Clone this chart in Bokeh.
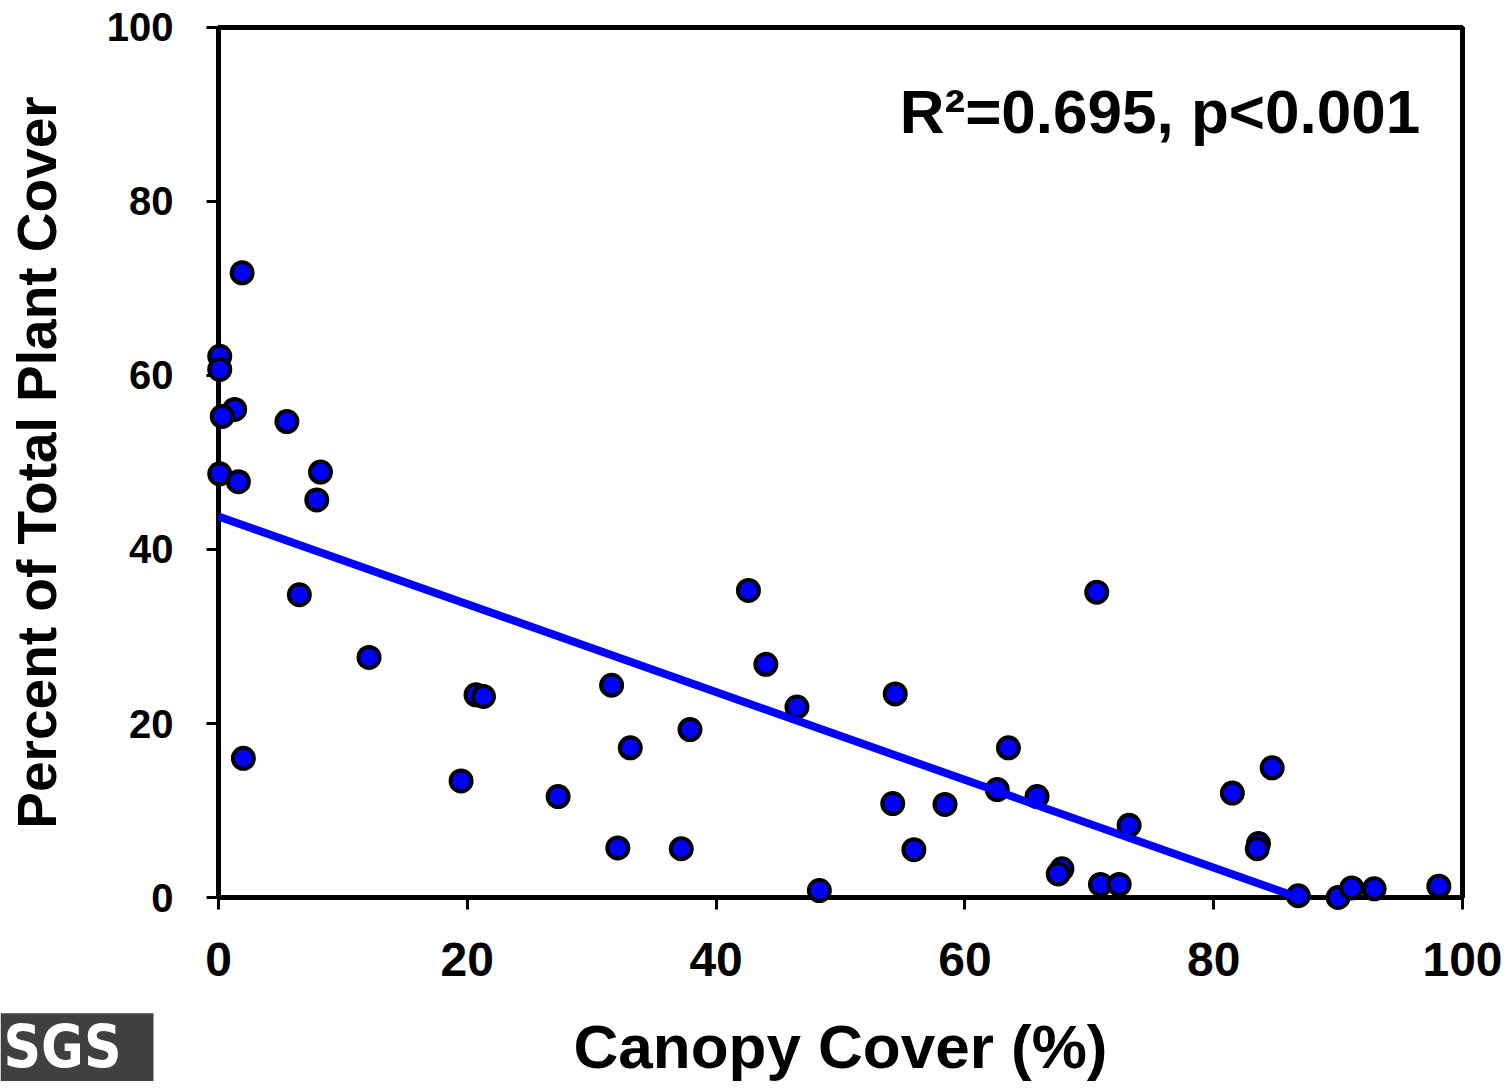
from bokeh.plotting import figure
from bokeh.models import Range1d, FixedTicker, Label, BoxAnnotation, ColumnDataSource
from bokeh.embed import file_html
from bokeh.resources import INLINE

# ---- data ----
canopy_cover = [1.9, 0.1, 0.1, 1.3, 0.3, 5.5, 0.1, 1.6, 8.2, 7.9, 6.5, 2.0, 12.1,
                19.5, 20.7, 21.3, 27.3, 31.6, 32.1, 33.1, 37.2, 37.9, 42.6, 44.0,
                46.5, 48.3, 54.2, 54.4, 55.9, 58.4, 62.6, 63.5, 65.8, 67.8, 67.5,
                70.9, 70.6, 72.4, 73.2, 81.5, 83.6, 83.5, 84.7, 86.8, 90.0, 91.1,
                92.9, 98.1]
plant_cover = [71.8, 62.2, 60.7, 56.1, 55.3, 54.7, 48.7, 47.8, 48.9, 45.7, 34.8, 16.0, 27.6,
               13.4, 23.3, 23.1, 11.6, 24.4, 5.7, 17.2, 5.6, 19.3, 35.3, 26.8,
               21.9, 0.8, 10.8, 23.4, 5.5, 10.7, 12.4, 17.2, 11.6, 3.3, 2.7,
               1.5, 35.1, 1.5, 8.3, 12.0, 6.2, 5.6, 14.9, 0.2, 0.0, 1.1,
               1.0, 1.3]
fit_x = [0.0, 86.8]
fit_y = [43.8, 0.0]
x_ticks = [0, 20, 40, 60, 80, 100]
y_ticks = [0, 20, 40, 60, 80, 100]
stat_text = "R\u00b2=0.695, p<0.001"
x_title = "Canopy Cover (%)"
y_title = "Percent of Total Plant Cover"
logo_text = "SGS"

FONT = "Liberation Sans"

# the frame fills the whole canvas; the axes sit at fixed data positions
p = figure(width=1503, height=1081, output_backend="svg", toolbar_location=None,
           x_range=Range1d(-17.524, 103.296), y_range=Range1d(-21.149, 103.103),
           min_border=0)
p.background_fill_color = "white"
p.border_fill_color = "white"
p.outline_line_color = None
p.grid.visible = False

# axes
for ax in (p.xaxis[0], p.yaxis[0]):
    ax.fixed_location = 0
    ax.bounds = (0, 100)
    ax.axis_line_color = "black"
    ax.axis_line_width = 5
    ax.major_tick_line_color = "black"
    ax.major_tick_line_width = 3
    ax.major_tick_in = 0
    ax.major_tick_out = 12
    ax.minor_tick_line_color = None
    ax.major_label_text_font = FONT
    ax.major_label_text_font_style = "bold"
    ax.major_label_text_color = "black"
    ax.axis_label_text_font = FONT
    ax.axis_label_text_font_style = "bold"
    ax.axis_label_text_color = "black"

p.xaxis.ticker = FixedTicker(ticks=x_ticks)
p.yaxis.ticker = FixedTicker(ticks=y_ticks)
p.xaxis.major_label_text_font_size = "48px"
p.yaxis.major_label_text_font_size = "40px"
p.xaxis.major_label_standoff = 33
p.yaxis.major_label_standoff = 33
p.yaxis.axis_label = y_title
p.yaxis.axis_label_text_font_size = "55px"
p.yaxis.axis_label_standoff = 36

# top and right edges of the plot box
p.add_layout(BoxAnnotation(left=0, right=100, bottom=0, top=100,
                           fill_color=None, fill_alpha=0,
                           line_color="black", line_alpha=1.0, line_width=5))

src = ColumnDataSource(dict(x=canopy_cover, y=plant_cover))
p.scatter("x", "y", source=src, size=21, fill_color="#0000FF", line_color="black",
          line_width=4, level="overlay")
p.line(fit_x, fit_y, line_color="#0000FF", line_width=8, level="overlay")

p.add_layout(Label(x=96.6, y=90.3, text=stat_text, text_align="right", text_baseline="middle",
                   text_font=FONT, text_font_style="bold", text_font_size="62px",
                   text_color="black"))

# x axis title
p.add_layout(Label(x=50, y=-17.13, text=x_title, text_align="center", text_baseline="middle",
                   text_font=FONT, text_font_style="bold", text_font_size="62px",
                   text_color="black"))

# logo
p.add_layout(Label(x=-17.524, y=-17.33, text=logo_text, text_align="left", text_baseline="middle",
                   text_font="DejaVu Sans Condensed", text_font_style="bold",
                   text_font_size="58px", text_color="white",
                   background_fill_color="#404040", background_fill_alpha=1.0,
                   padding=dict(left=3, right=32, top=0, bottom=2)))

open("out.html", "w").write(file_html(p, INLINE))
